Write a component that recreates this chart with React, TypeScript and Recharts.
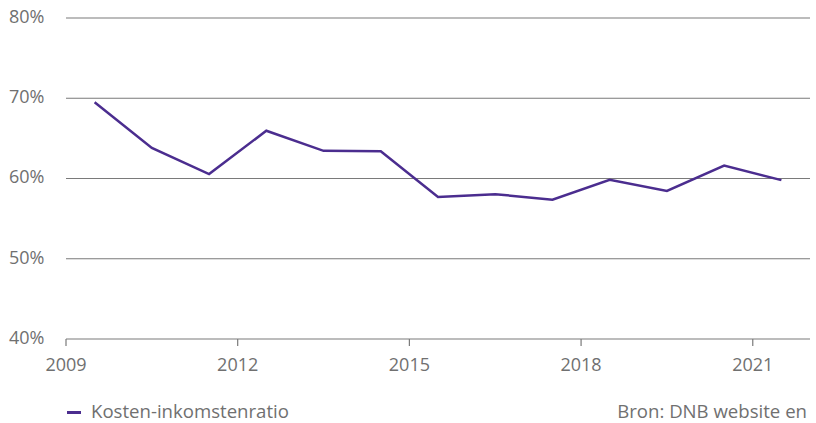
import React from "react";
import { LineChart, Line, XAxis, YAxis, CartesianGrid, Legend } from "recharts";

const years = [2009.5, 2010.5, 2011.5, 2012.5, 2013.5, 2014.5, 2015.5, 2016.5, 2017.5, 2018.5, 2019.5, 2020.5, 2021.5];
const ratio = [69.5, 63.8, 60.55, 65.95, 63.45, 63.4, 57.7, 58.05, 57.35, 59.85, 58.45, 61.6, 59.8];
const xTicks = [2009, 2012, 2015, 2018, 2021];
const yTicks = [40, 50, 60, 70, 80];
const seriesName = "Kosten-inkomstenratio";
const sourceNote = "Bron: DNB website en";

const data = years.map((y, i) => ({ year: y, ratio: ratio[i] }));

const FONT = "'Open Sans', sans-serif";
const TEXT = "#707070";
const PURPLE = "#4b2d8f";

const YTick = (props: any) => {
  const { y, payload } = props;
  return (
    <text x={9} y={y - 1.5} dy="0.35em" textAnchor="start" fill={TEXT} fontFamily={FONT} fontSize={18}>
      {payload.value}%
    </text>
  );
};

const XTick = (props: any) => {
  const { x, y, payload } = props;
  return (
    <text x={x} y={y} dy={23} textAnchor="middle" fill={TEXT} fontFamily={FONT} fontSize={18}>
      {payload.value}
    </text>
  );
};

const LegendContent = () => (
  <div style={{ position: "relative", width: 816, height: 24, fontFamily: FONT, fontSize: 18.6, color: TEXT }}>
    <div style={{ position: "absolute", left: 67, top: 12, width: 14, height: 3, background: PURPLE }} />
    <div style={{ position: "absolute", left: 91, top: 0, lineHeight: "24px", whiteSpace: "nowrap" }}>{seriesName}</div>
    <div style={{ position: "absolute", right: 9, top: 0, lineHeight: "24px", whiteSpace: "nowrap" }}>{sourceNote}</div>
  </div>
);

export default function App() {
  return (
    <div style={{ position: "absolute", left: 0, top: 0, width: 816, height: 423, background: "#fff" }}>
      <LineChart width={816} height={423} data={data} margin={{ top: 18, right: 6, bottom: 0, left: 0 }}>
        <CartesianGrid horizontal vertical={false} stroke="#7a7a7a" strokeWidth={1.2} horizontalValues={[50, 60, 70, 80]} />
        <XAxis
          dataKey="year"
          type="number"
          domain={[2009, 2022]}
          ticks={xTicks}
          height={60}
          tick={<XTick />}
          tickSize={7}
          axisLine={{ stroke: "#7a7a7a", strokeWidth: 1.2 }}
          tickLine={{ stroke: "#7a7a7a", strokeWidth: 1.2 }}
          interval={0}
        />
        <YAxis
          type="number"
          domain={[40, 80]}
          ticks={yTicks}
          width={66}
          axisLine={false}
          tickLine={false}
          tick={<YTick />}
          interval={0}
        />
        <Legend verticalAlign="bottom" height={24} wrapperStyle={{ left: 0, width: 816 }} content={<LegendContent />} />
        <Line
          type="linear"
          dataKey="ratio"
          name={seriesName}
          stroke={PURPLE}
          strokeWidth={2.5}
          dot={false}
          isAnimationActive={false}
        />
      </LineChart>
    </div>
  );
}
